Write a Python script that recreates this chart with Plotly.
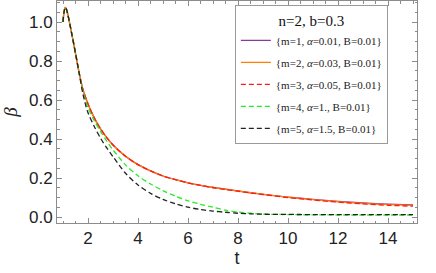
import plotly.graph_objects as go

# ---- data ----
t = [1.0, 1.04, 1.09, 1.14, 1.2, 1.28, 1.35, 1.5, 1.65, 1.8, 2.0, 2.25, 2.5,
     2.75, 3.0, 3.5, 4.0, 4.5, 5.0, 5.5, 6.0, 6.5, 7.0, 7.5, 8.0, 8.5, 9.0,
     10.0, 11.0, 12.0, 13.0, 14.0, 15.0]

beta_m1 = [1.0, 1.05, 1.075, 1.065, 1.035, 0.985, 0.94, 0.84, 0.737, 0.653,
           0.58, 0.509, 0.453, 0.408, 0.37, 0.312, 0.269, 0.237, 0.211, 0.192,
           0.176, 0.163, 0.152, 0.143, 0.134, 0.125, 0.117, 0.103, 0.091,
           0.081, 0.073, 0.067, 0.063]
beta_m2 = [1.0, 1.05, 1.075, 1.065, 1.035, 0.985, 0.94, 0.84, 0.737, 0.653,
           0.58, 0.509, 0.453, 0.408, 0.37, 0.312, 0.269, 0.237, 0.211, 0.192,
           0.176, 0.163, 0.152, 0.143, 0.134, 0.125, 0.117, 0.102, 0.09,
           0.079, 0.07, 0.064, 0.06]
beta_m3 = [1.0, 1.05, 1.075, 1.065, 1.035, 0.985, 0.94, 0.84, 0.737, 0.653,
           0.58, 0.509, 0.453, 0.408, 0.37, 0.312, 0.269, 0.237, 0.211, 0.192,
           0.176, 0.163, 0.152, 0.142, 0.133, 0.124, 0.116, 0.1, 0.088,
           0.077, 0.068, 0.061, 0.056]
beta_m4 = [1.0, 1.05, 1.075, 1.065, 1.035, 0.985, 0.94, 0.84, 0.737, 0.645,
           0.56, 0.495, 0.44, 0.39, 0.345, 0.268, 0.212, 0.17, 0.136, 0.107,
           0.084, 0.066, 0.051, 0.036, 0.026, 0.02, 0.016, 0.013, 0.012,
           0.011, 0.011, 0.011, 0.011]
beta_m5 = [1.0, 1.05, 1.075, 1.065, 1.035, 0.985, 0.94, 0.84, 0.735, 0.63,
           0.535, 0.465, 0.405, 0.355, 0.31, 0.225, 0.165, 0.122, 0.091, 0.068,
           0.051, 0.039, 0.031, 0.025, 0.02, 0.017, 0.015, 0.014, 0.013,
           0.013, 0.013, 0.013, 0.013]

labels = ["{m=1, <i>α</i>=0.01, B=0.01}",
          "{m=2, <i>α</i>=0.03, B=0.01}",
          "{m=3, <i>α</i>=0.05, B=0.01}",
          "{m=4, <i>α</i>=1., B=0.01}",
          "{m=5, <i>α</i>=1.5, B=0.01}"]
series = [beta_m1, beta_m2, beta_m3, beta_m4, beta_m5]
colors = ["#8a3a9a", "#ff8000", "#ff1a1a", "#22ee22", "#222222"]
dashes = ["solid", "solid", "5px,3px", "5px,3px", "5px,3px"]

x_ticks = [2, 4, 6, 8, 10, 12, 14]
y_ticks = [0.0, 0.2, 0.4, 0.6, 0.8, 1.0]

fig = go.Figure()
for i, (ys, lab, c, d) in enumerate(zip(series, labels, colors, dashes)):
    fig.add_trace(go.Scatter(
        x=t, y=ys, mode="lines", name=lab, legendgroup=f"g{i}",
        line=dict(color=c, width=1.3, dash=d, shape="spline", smoothing=0.8),
    ))

frame = "#8c8c8c"
axis_common = dict(
    showgrid=False, zeroline=False, showline=True, linecolor=frame,
    linewidth=1, mirror="ticks", ticks="inside", ticklen=5, tickcolor=frame,
    automargin=False,
    tickfont=dict(family="Liberation Sans, Arial, sans-serif", size=17,
                  color="#222"),
)

fig.update_layout(
    width=436, height=273,
    margin=dict(l=57, r=19, t=1, b=50),
    paper_bgcolor="white", plot_bgcolor="white",
    showlegend=True,
    legend=dict(
        x=0.494, y=0.98, xanchor="left", yanchor="top",
        bgcolor="white", bordercolor="#9a9a9a", borderwidth=1,
        font=dict(family="Liberation Serif, Times New Roman, serif", size=11,
                  color="#222"),
        title=dict(text="n=2, b=0.3", side="top center",
                   font=dict(family="Liberation Serif, Times New Roman, serif",
                             size=15, color="#111")),
        tracegroupgap=3, itemwidth=30,
    ),
    xaxis=dict(
        range=[0.76, 15.16], tickvals=x_ticks,
        title=dict(text="t", standoff=2,
                   font=dict(family="Liberation Sans, Arial, sans-serif",
                             size=18, color="#222")),
        minor=dict(ticks="inside", ticklen=2.5, dtick=0.5, tickcolor=frame),
        **axis_common,
    ),
    yaxis=dict(
        range=[-0.03, 1.108], tickvals=y_ticks, tickformat=".1f",
        title=dict(text="<i>β</i>", standoff=6,
                   font=dict(family="Liberation Serif, Times New Roman, serif",
                             size=19, color="#222")),
        minor=dict(ticks="inside", ticklen=2.5, dtick=0.05, tickcolor=frame),
        **axis_common,
    ),
)

fig.write_html(
    "out.html",
    config={"displayModeBar": False},
    post_script="document.body.style.margin='0';"
                "document.body.style.overflow='hidden';",
)
